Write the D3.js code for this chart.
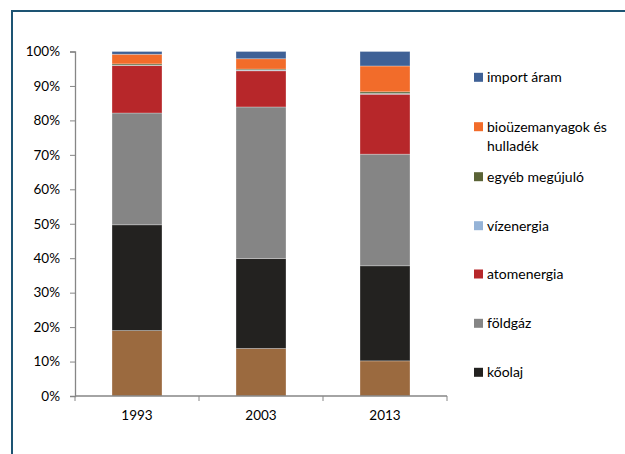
<!DOCTYPE html>
<html>
<head>
<meta charset="utf-8">
<script src="https://cdn.jsdelivr.net/npm/d3@7"></script>
<style>
  html, body { margin: 0; padding: 0; background: #fff; }
  svg { display: block; font-family: Lato, "Liberation Sans", "DejaVu Sans", sans-serif; }
</style>
</head>
<body>
<svg id="chart" width="625" height="454"></svg>
<script>
// Energy mix shares (%), by year
const years = ["1993", "2003", "2013"];
const szen = [19.0, 13.8, 10.2];
const koolaj = [30.7, 26.1, 27.6];
const foldgaz = [32.45, 44.0, 32.4];
const atomenergia = [13.75, 10.5, 17.4];
const vizenergia = [0.1, 0.2, 0.2];
const egyebMegujulo = [0.4, 0.3, 0.5];
const bioUzemanyag = [2.8, 3.0, 7.5];
const importAram = [0.8, 2.1, 4.2];
const yTicks = [0, 10, 20, 30, 40, 50, 60, 70, 80, 90, 100];

// stacking order, bottom to top
const series = [
  { key: "szen", label: "szén", values: szen, color: "#9b6a3f", legend: false },
  { key: "koolaj", label: "kőolaj", values: koolaj, color: "#232220", legend: true },
  { key: "foldgaz", label: "földgáz", values: foldgaz, color: "#858585", legend: true },
  { key: "atom", label: "atomenergia", values: atomenergia, color: "#b7272a", legend: true },
  { key: "viz", label: "vízenergia", values: vizenergia, color: "#95b3d7", legend: true },
  { key: "egyeb", label: "egyéb megújuló", values: egyebMegujulo, color: "#5a6336", legend: true },
  { key: "bio", label: ["bioüzemanyagok és", "hulladék"], values: bioUzemanyag, color: "#f26c2a", legend: true },
  { key: "import", label: "import áram", values: importAram, color: "#3f6196", legend: true }
];

const rows = years.map((y, i) => {
  const r = { year: y };
  series.forEach(s => r[s.key] = s.values[i]);
  return r;
});

const stacked = d3.stack().keys(series.map(s => s.key))(rows);

const svg = d3.select("#chart");

// outer frame (top and left edges)
svg.append("path")
  .attr("d", "M12,454 L12,11 L625,11")
  .attr("fill", "none")
  .attr("stroke", "#1d5473")
  .attr("stroke-width", 2);

const plot = { left: 75, right: 447, top: 51.5, bottom: 396 };

const x = d3.scaleBand().domain(years).range([plot.left, plot.right]).paddingInner(0.597).paddingOuter(0.2985);
const y = d3.scaleLinear().domain([0, 100]).range([plot.bottom, plot.top]);

// bars
const g = svg.append("g");
stacked.forEach((layer, li) => {
  g.append("g")
    .attr("fill", series[li].color)
    .selectAll("rect")
    .data(layer)
    .join("rect")
    .attr("x", d => x(d.data.year))
    .attr("width", x.bandwidth())
    .attr("y", d => y(d[1]))
    .attr("height", d => Math.max(0, y(d[0]) - y(d[1])))
    .attr("stroke", "rgba(255,255,255,0.35)")
    .attr("stroke-width", 0.8);
});

// y axis
const yAxis = d3.axisLeft(y).tickValues(yTicks).tickFormat(d => d + "%").tickSize(5).tickPadding(10);
const ya = svg.append("g").attr("transform", `translate(${plot.left},0)`).call(yAxis);
ya.select(".domain").attr("stroke", "#868686").attr("stroke-width", 1.3);
ya.selectAll(".tick line").attr("stroke", "#868686");
ya.selectAll(".tick text").attr("fill", "#000").style("font-size", "13.5px").style("font-family", "Lato, sans-serif");

// x axis: ticks at category boundaries
const xa = svg.append("g").attr("transform", `translate(0,${plot.bottom})`);
xa.append("line").attr("x1", plot.left).attr("x2", plot.right).attr("stroke", "#868686").attr("stroke-width", 1.3);
const step = x.step();
const bounds = d3.range(years.length + 1).map(i => plot.left + i * step);
xa.selectAll("line.tk").data(bounds).join("line").attr("class", "tk")
  .attr("x1", d => d).attr("x2", d => d).attr("y1", 0).attr("y2", 5)
  .attr("stroke", "#868686");
xa.selectAll("text").data(years).join("text")
  .attr("x", d => x(d) + x.bandwidth() / 2)
  .attr("y", 24)
  .attr("text-anchor", "middle")
  .style("font-size", "13.5px")
  .attr("fill", "#000")
  .text(d => d);

// legend, top to bottom
const legendItems = series.filter(s => s.legend).slice().reverse();
const legendY = [77.3, 126.7, 176.7, 225.7, 274, 323.3, 372.3];
const lg = svg.append("g");
legendItems.forEach((s, i) => {
  const cy = legendY[i];
  lg.append("rect").attr("x", 474).attr("y", cy - 4.5).attr("width", 9).attr("height", 9).attr("fill", s.color);
  const lines = Array.isArray(s.label) ? s.label : [s.label];
  const t = lg.append("text").attr("x", 487).attr("y", cy + 5).style("font-size", "14px").attr("fill", "#000");
  lines.forEach((ln, k) => t.append("tspan").attr("x", 487).attr("dy", k === 0 ? 0 : 19.5).text(ln));
});
</script>
</body>
</html>
